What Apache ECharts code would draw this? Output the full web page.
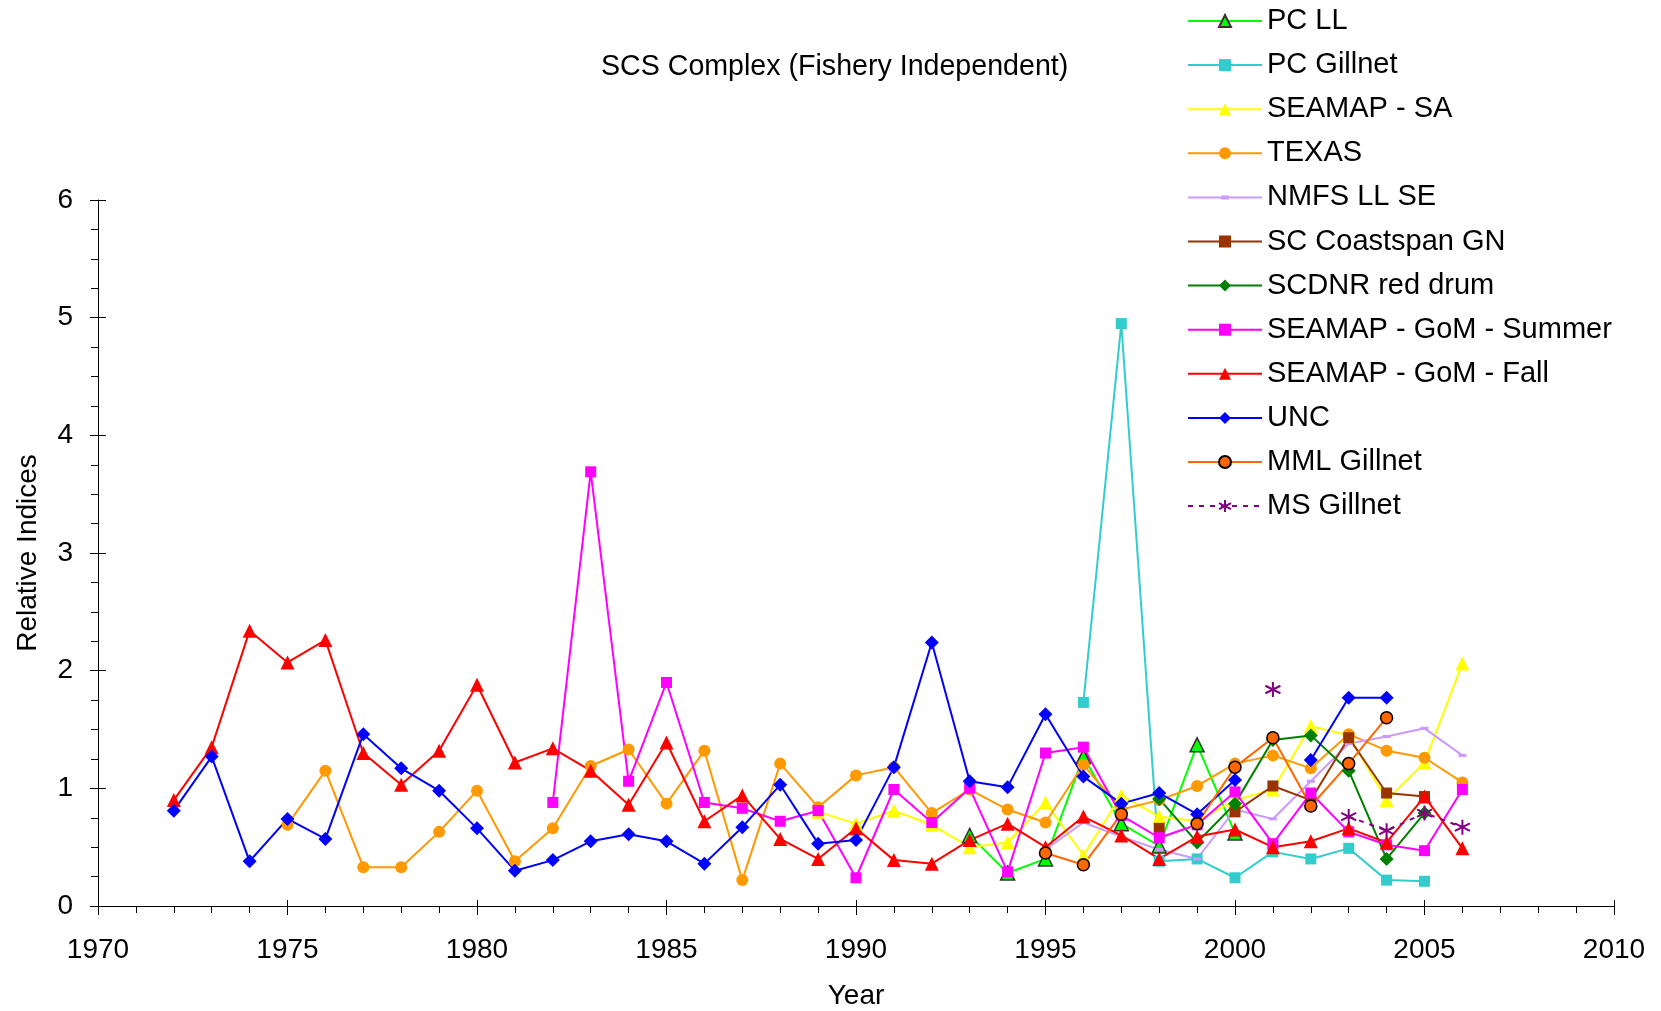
<!DOCTYPE html>
<html>
<head>
<meta charset="utf-8">
<script src="https://cdn.jsdelivr.net/npm/echarts@6/dist/echarts.min.js"></script>
<style>
  html, body { margin: 0; padding: 0; background: #fff; }
  #chart { width: 1661px; height: 1011px; }
</style>
</head>
<body>
<div id="chart"></div>
<script>
// values per series, first entry is the start year's value, null = no data
const pcLLStart = 1993;
const pcLL = [0.60, 0.28, 0.40, 1.27, 0.70, 0.51, 1.37, 0.62];
const pcGillnetStart = 1996;
const pcGillnet = [1.73, 4.95, 0.38, 0.40, 0.24, 0.46, 0.40, 0.49, 0.22, 0.21];
const seamapSAStart = 1989;
const seamapSA = [0.80, 0.70, 0.81, 0.69, 0.50, 0.54, 0.88, 0.43, 0.94, 0.76, 0.72, 0.90, 0.99, 1.53, 1.45, 0.90, 1.22, 2.06];
const texasStart = 1975;
const texas = [0.69, 1.15, 0.33, 0.33, 0.63, 0.98, 0.38, 0.66, 1.19, 1.33, 0.87, 1.32, 0.22, 1.21, 0.84, 1.11,
  1.18, 0.79, 0.99, 0.82, 0.71, 1.20, 0.82, 0.90, 1.02, 1.21, 1.28, 1.17, 1.46, 1.32, 1.26, 1.05];
const nmfsStart = 1995;
const nmfs = [0.48, 0.71, 0.59, 0.48, 0.40, 0.82, 0.74, 1.06, 1.38, 1.44, 1.51, 1.28];
const coastspanStart = 1998;
const coastspan = [0.66, null, 0.80, 1.02, 0.90, 1.43, 0.96, 0.93];
const redDrumStart = 1998;
const redDrum = [0.91, 0.54, 0.87, 1.41, 1.45, 1.15, 0.40, 0.79];
const summerStart = 1982;
const summer = [0.88, 3.69, 1.06, 1.90, 0.88, 0.83, 0.72, 0.81, 0.24, 0.99, 0.71, 1.00, 0.29, 1.30, 1.35, 0.77,
  0.58, 0.69, 0.97, 0.53, 0.96, 0.63, 0.52, 0.47, 0.99];
const fallStart = 1972;
const fall = [0.90, 1.35, 2.34, 2.07, 2.26, 1.30, 1.03, 1.32, 1.88, 1.22, 1.34, 1.15, 0.86, 1.39, 0.72, 0.94,
  0.57, 0.40, 0.66, 0.39, 0.36, 0.56, 0.70, 0.50, 0.76, 0.60, 0.40, 0.59, 0.65, 0.50, 0.55, 0.66, 0.54, 0.93, 0.49];
const uncStart = 1972;
const unc = [0.81, 1.27, 0.38, 0.74, 0.57, 1.46, 1.17, 0.98, 0.66, 0.30, 0.39, 0.55, 0.61, 0.55, 0.36, 0.67,
  1.03, 0.53, 0.56, 1.18, 2.24, 1.06, 1.01, 1.63, 1.10, 0.87, 0.96, 0.78, 1.07, null, 1.24, 1.77, 1.77];
const mmlStart = 1995;
const mml = [0.45, 0.35, 0.78, null, 0.70, 1.18, 1.43, 0.85, 1.21, 1.60];
const msGillnetStart = 2001;
const msGillnet = [1.84, null, 0.76, 0.64, 0.79, 0.67];

const chart = echarts.init(document.getElementById('chart'), null, { renderer: 'canvas' });

const font = 'Liberation Sans, Arial, sans-serif';
const asterisk = 'path://M5,0L5,10M0.7,2.5L9.3,7.5M0.7,7.5L9.3,2.5';
// legend icon for the series drawn with tiny dash markers
const dashIcon = 'path://M0,6.5L74,6.5L74,8.5L0,8.5ZM33,5.5L41,5.5L41,9.5L33,9.5Z';

function pairs(start, vals) {
  return vals.map((v, i) => [start + i, v]);
}

function line(name, start, vals, color, symbol, size, extra) {
  const s = {
    name: name,
    type: 'line',
    data: pairs(start, vals),
    connectNulls: false,
    symbol: symbol,
    symbolSize: size,
    showAllSymbol: true,
    lineStyle: { color: color, width: 2 },
    itemStyle: { color: color },
    emphasis: { disabled: true }
  };
  return Object.assign(s, extra || {});
}

const series = [
  line('PC LL', pcLLStart, pcLL, '#00FF00', 'triangle', 14,
    { itemStyle: { color: '#00FF00', borderColor: '#333333', borderWidth: 1.5 } }),
  line('PC Gillnet', pcGillnetStart, pcGillnet, '#33CCCC', 'rect', 11),
  line('SEAMAP - SA', seamapSAStart, seamapSA, '#FFFF00', 'triangle', 14),
  line('TEXAS', texasStart, texas, '#FF9900', 'circle', 12),
  line('NMFS LL SE', nmfsStart, nmfs, '#CC99FF', 'rect', [8, 3]),
  line('SC Coastspan GN', coastspanStart, coastspan, '#993300', 'rect', 11),
  line('SCDNR red drum', redDrumStart, redDrum, '#008000', 'diamond', 14),
  line('SEAMAP - GoM - Summer', summerStart, summer, '#FF00FF', 'rect', 11),
  line('SEAMAP - GoM - Fall', fallStart, fall, '#FF0000', 'triangle', 14),
  line('UNC', uncStart, unc, '#0000FF', 'diamond', 14),
  line('MML Gillnet', mmlStart, mml, '#FF6600', 'circle', 12,
    { itemStyle: { color: '#FF6600', borderColor: '#000000', borderWidth: 1.5 } }),
  line('MS Gillnet', msGillnetStart, msGillnet, '#800080', asterisk, 15,
    { lineStyle: { color: '#800080', width: 2, type: [5, 6] },
      itemStyle: { color: 'rgba(0,0,0,0)', borderColor: '#800080', borderWidth: 2 } })
];

const legendData = series.map(s => s.name === 'NMFS LL SE' ? { name: s.name, icon: dashIcon } : s.name);

const option = {
  animation: false,
  backgroundColor: '#ffffff',
  title: {
    text: 'SCS Complex (Fishery Independent)',
    left: 596,
    top: 48,
    textStyle: { fontFamily: font, fontSize: 28.6, fontWeight: 'normal', color: '#000' }
  },
  legend: {
    orient: 'vertical',
    left: 1182,
    top: 1,
    itemWidth: 74,
    itemHeight: 15,
    itemGap: 14.1,
    textStyle: { fontFamily: font, fontSize: 29, color: '#000', lineHeight: 30 },
    data: legendData
  },
  grid: { left: 98, right: 47, top: 200, bottom: 105, containLabel: false, outerBoundsMode: 'none' },
  xAxis: [{
    type: 'value',
    min: 1970,
    max: 2010,
    interval: 5,
    name: 'Year',
    nameLocation: 'middle',
    nameGap: 76,
    nameTextStyle: { fontFamily: font, fontSize: 28, color: '#000' },
    axisLine: { show: true, onZero: false, lineStyle: { color: '#000', width: 1 } },
    axisTick: { show: true, length: 9, lineStyle: { color: '#000' } },
    minorTick: { show: true, splitNumber: 5, length: 7, lineStyle: { color: '#000' } },
    axisLabel: { fontFamily: font, fontSize: 28, color: '#000', margin: 30, formatter: v => String(v) },
    splitLine: { show: false }
  }, {
    type: 'value',
    min: 1970,
    max: 2010,
    interval: 5,
    position: 'bottom',
    axisLine: { show: false },
    axisTick: { show: true, inside: true, length: 6, lineStyle: { color: '#000' } },
    axisLabel: { show: false },
    splitLine: { show: false }
  }],
  yAxis: [{
    type: 'value',
    min: 0,
    max: 6,
    interval: 1,
    name: 'Relative Indices',
    nameLocation: 'middle',
    nameGap: 56,
    nameTextStyle: { fontFamily: font, fontSize: 28, color: '#000' },
    axisLine: { show: true, onZero: false, lineStyle: { color: '#000', width: 1 } },
    axisTick: { show: true, length: 8, lineStyle: { color: '#000' } },
    minorTick: { show: true, splitNumber: 4, length: 7, lineStyle: { color: '#000' } },
    axisLabel: { fontFamily: font, fontSize: 28, color: '#000', margin: 25 },
    splitLine: { show: false }
  }, {
    type: 'value',
    min: 0,
    max: 6,
    interval: 1,
    position: 'left',
    axisLine: { show: false },
    axisTick: { show: true, inside: true, length: 8, lineStyle: { color: '#000' } },
    axisLabel: { show: false },
    splitLine: { show: false }
  }],
  series: series
};

chart.setOption(option);
</script>
</body>
</html>
